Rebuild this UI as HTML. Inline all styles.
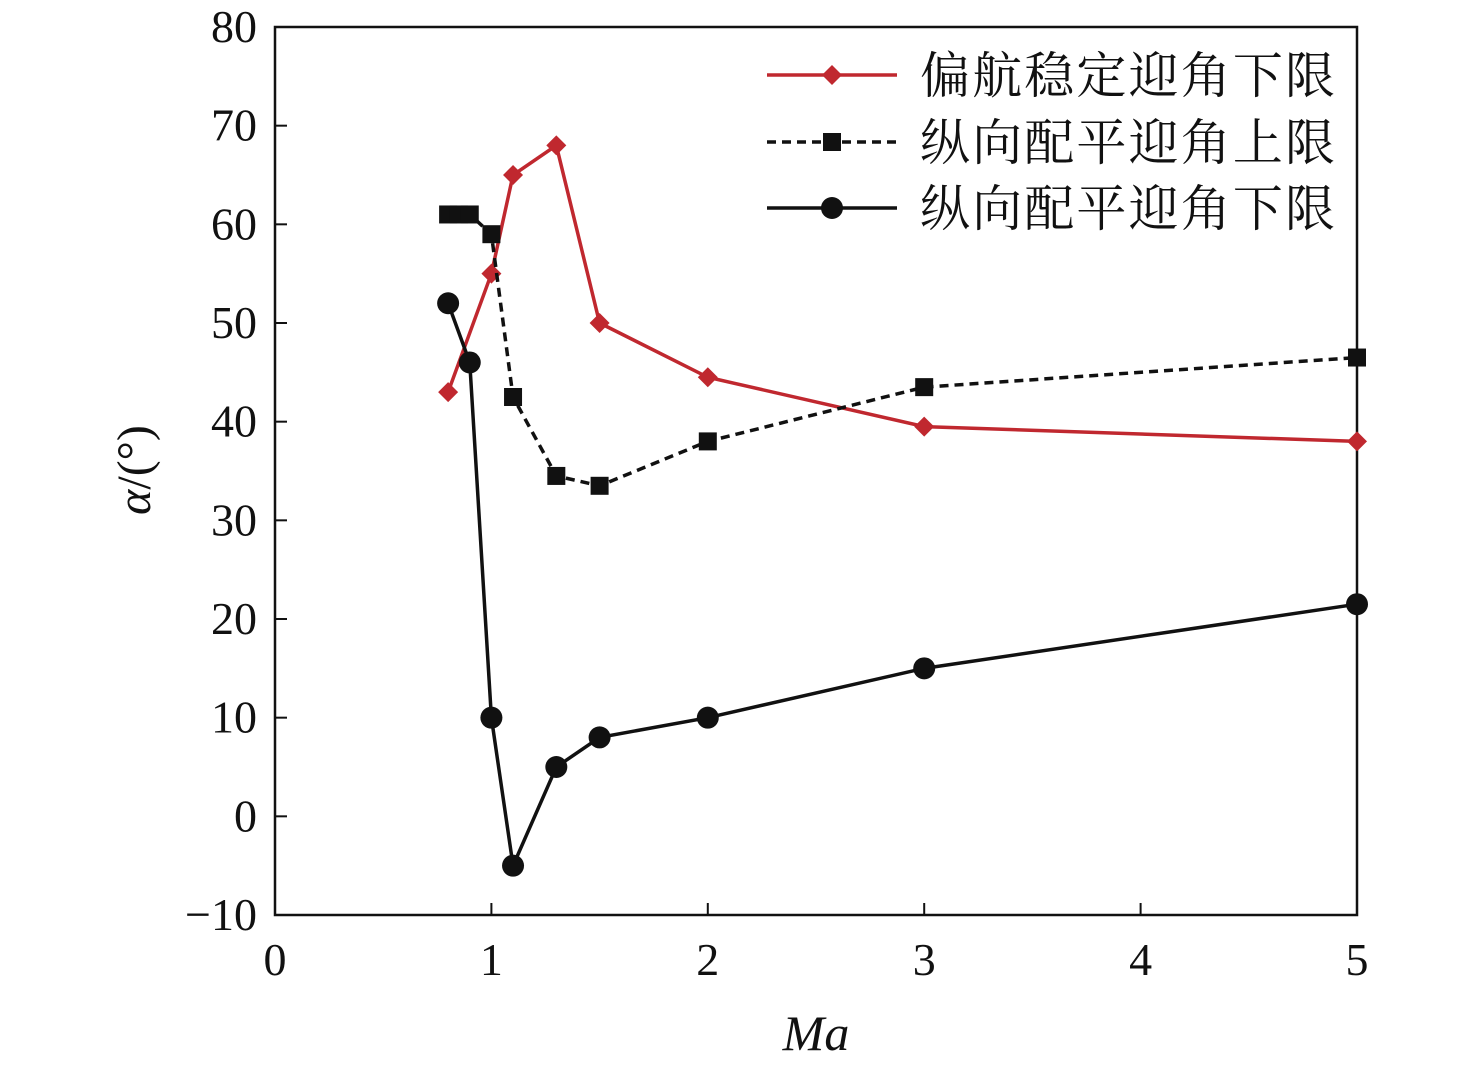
<!DOCTYPE html>
<html><head><meta charset="utf-8"><style>
body{margin:0;background:#fff}
svg text{font-family:"Liberation Serif","Noto Serif CJK SC",serif;fill:#111}
</style></head><body>
<svg id="chart" width="1476" height="1066" xmlns="http://www.w3.org/2000/svg">
</svg>
<script>
const xTicks=[0,1,2,3,4,5];
const yTicks=[-10,0,10,20,30,40,50,60,70,80];
const redX=[0.8,1.0,1.1,1.3,1.5,2,3,5];
const redY=[43,55,65,68,50,44.5,39.5,38];
const dashX=[0.8,0.85,0.9,1.0,1.1,1.3,1.5,2,3,5];
const dashY=[61,61,61,59,42.5,34.5,33.5,38,43.5,46.5];
const blackX=[0.8,0.9,1.0,1.1,1.3,1.5,2,3,5];
const blackY=[52,46,10,-5,5,8,10,15,21.5];
const legendLabels=["偏航稳定迎角下限","纵向配平迎角上限","纵向配平迎角下限"];
const X0=275,X1=1357,Y0=915,Y1=27;
const sx=v=>X0+(v-0)/5*(X1-X0);
const sy=v=>Y0-(v+10)/90*(Y0-Y1);
const svg=document.getElementById('chart');
const NS='http://www.w3.org/2000/svg';
function mk(t,a,p){const e=document.createElementNS(NS,t);for(const k in a)e.setAttribute(k,a[k]);(p||svg).appendChild(e);return e;}
const frame=mk('rect',{x:X0,y:Y1,width:X1-X0,height:Y0-Y1,fill:'none',stroke:'#111','stroke-width':2.5});


xTicks.forEach(v=>{
 const l=mk('line',{x1:sx(v),x2:sx(v),y1:Y0,y2:Y0-12,stroke:'#111','stroke-width':2});
 
 
 const t=mk('text',{x:sx(v),y:Y0+60,'text-anchor':'middle','font-size':46});
 t.textContent=v;
 
 
});
yTicks.forEach(v=>{
 const l=mk('line',{x1:X0,x2:X0+12,y1:sy(v),y2:sy(v),stroke:'#111','stroke-width':2});
 
 
 const t=mk('text',{x:X0-18,y:sy(v)+15,'text-anchor':'end','font-size':46});
 t.textContent=v<0?'\u2212'+(-v):v;
 
 
});
const xt=mk('text',{x:816,y:1050,'text-anchor':'middle','font-size':50,'font-style':'italic'});
xt.textContent='Ma';


const yt=mk('text',{x:0,y:0,'text-anchor':'middle','font-size':48,transform:'translate(150,470) rotate(-90)'});
yt.innerHTML='<tspan font-style="italic">α</tspan>/(°)';


function marker(type,x,y,color,g){
 let e;
 if(type==='diamond')e=mk('polygon',{points:`${x},${y-10} ${x+10},${y} ${x},${y+10} ${x-10},${y}`,fill:color},g);
 else if(type==='square')e=mk('rect',{x:x-9,y:y-9,width:18,height:18,fill:color},g);
 else e=mk('circle',{cx:x,cy:y,r:11,fill:color},g);
 
 
}
function series(xs,ys,color,dash,type,name){
 const g=mk('g',{});
 
 
 const p=mk('polyline',{points:xs.map((x,i)=>sx(x)+','+sy(ys[i])).join(' '),fill:'none',stroke:color,'stroke-width':3.5,'stroke-dasharray':dash||''},g);
 
 
 xs.forEach((x,i)=>marker(type,sx(x),sy(ys[i]),color,g));
}
series(redX,redY,'#c0282f','','diamond','series-yaw-lower');
series(dashX,dashY,'#111','9,6','square','series-pitch-upper');
series(blackX,blackY,'#111','','circle','series-pitch-lower');
const leg=[['#c0282f','','diamond',75],['#111','9,6','square',142],['#111','','circle',208]];
leg.forEach((d,i)=>{
 const g=mk('g',{});
 
 
 const l=mk('line',{x1:767,x2:897,y1:d[3],y2:d[3],stroke:d[0],'stroke-width':3.5,'stroke-dasharray':d[1]},g);
 
 
 marker(d[2],832,d[3],d[0],g);
 const t=mk('text',{x:920,y:d[3]+18,'font-size':50,textLength:415,lengthAdjust:'spacing'},g);
 t.textContent=legendLabels[i];
 
 
});
</script>
</body></html>
